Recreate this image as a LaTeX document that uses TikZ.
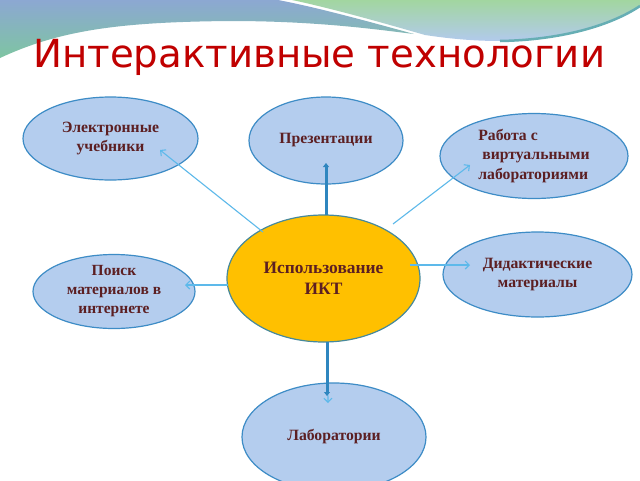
\documentclass[tikz,border=0pt]{standalone}
\usepackage{fontspec}
\setmainfont{Liberation Serif}
\newfontfamily\titlefont{DejaVu Sans}
\usetikzlibrary{shapes.geometric,arrows.meta}
\definecolor{bubble}{HTML}{B4CDEE}
\definecolor{bubbleline}{HTML}{3D8CC6}
\definecolor{core}{HTML}{FFC000}
\definecolor{coreline}{HTML}{46899C}
\definecolor{txt}{HTML}{5C1F22}
\definecolor{thinblue}{HTML}{5DB9EA}
\definecolor{thickblue}{HTML}{2F86BF}
\definecolor{titlered}{HTML}{C00000}
\definecolor{topblue}{HTML}{8CA8D2}
\definecolor{topteal}{HTML}{7EC5A2}
\definecolor{topgreen}{HTML}{A2D6A0}
\definecolor{toplight}{HTML}{B2CAEC}
\definecolor{stripe}{HTML}{66AEB4}
\begin{document}
\begin{tikzpicture}[x=1pt,y=-1pt,
  bub/.style={ellipse, draw=bubbleline, line width=1.2pt, fill=bubble, inner sep=0pt,
    text=txt, font=\fontsize{15.7}{19.5}\selectfont\bfseries, align=center},
  hub/.style={bub, fill=core, draw=coreline, font=\fontsize{17.4}{21}\selectfont\bfseries},
  thinarrow/.style={draw=thinblue, line width=1.1pt, -{Straight Barb[length=4pt,width=8pt]}},
  thickarrow/.style={draw=thickblue, line width=3pt, -{Triangle[length=4pt,width=6pt]}}]
\useasboundingbox (0,0) rectangle (640,480);
\fill[white] (0,0) rectangle (640,480);
% top decoration
\shade[top color=topgreen, bottom color=toplight]
  (292,0) -- (640,0) -- (640,6) .. controls (610,26) and (560,40) .. (500,41)
  .. controls (470,41) and (445,38) .. (425,35)
  .. controls (380,22) and (330,8) .. (292,0) -- cycle;
\shade[top color=topblue, bottom color=topteal]
  (0,0) -- (278,0) .. controls (320,8) and (370,22) .. (414,34)
  .. controls (380,30) and (320,21) .. (230,21)
  .. controls (120,22) and (60,30) .. (0,58) -- cycle;
\draw[stripe, line width=2.5pt] (640,6) .. controls (610,26) and (560,40) .. (500,41);
% title
\node[anchor=base west, font=\titlefont\fontsize{38.7}{40}\selectfont, text=titlered, inner sep=0pt]
  (title) at (33,67) {Интерактивные технологии};
% nodes
\node[hub, minimum width=193, minimum height=127] (ikt) at (323.5,278.5) {Использование\\ИКТ};
\node[bub, minimum width=175, minimum height=83] (ebook) at (110.5,138.5) {Электронные\\учебники};
\node[bub, minimum width=154, minimum height=87] (pres) at (326,140.5) {Презентации};
\node[bub, minimum width=188, minimum height=85, align=left] (virt) at (534,156) {Работа с\\\ виртуальными\\лабораториями};
\node[bub, minimum width=162, minimum height=74, font=\fontsize{15.5}{19}\selectfont\bfseries] (search) at (114,291.5) {Поиск\\материалов в\\интернете};
\node[bub, minimum width=189, minimum height=85] (didact) at (537.5,274.5) {Дидактические\\материалы};
\node[bub, minimum width=184, minimum height=108] (lab) at (334,437) {Лаборатории};
% connectors
\draw[thinarrow] ([shift={(-60.5,-46.5)}]ikt.center) -- ([shift={(49.5,11.5)}]ebook.center);
\draw[thinarrow] ([shift={(69.5,-54.5)}]ikt.center) -- ([shift={(-64,9)}]virt.center);
\draw[thinarrow] ([shift={(86.5,-13.5)}]ikt.center) -- ([shift={(-67.5,-9.5)}]didact.center);
\draw[thinarrow] ([shift={(-95.5,6.5)}]ikt.center) -- ([shift={(71,-6.5)}]search.center);
\draw[thinarrow] ([shift={(4,63.5)}]ikt.center) -- ([shift={(-6,-34)}]lab.center);
\draw[thickarrow] ([shift={(2.5,-63.5)}]ikt.center) -- ([shift={(0,22.5)}]pres.center);
\draw[thickarrow] ([shift={(3.5,63.5)}]ikt.center) -- ([shift={(-7,-41)}]lab.center);
\end{tikzpicture}
\end{document}
